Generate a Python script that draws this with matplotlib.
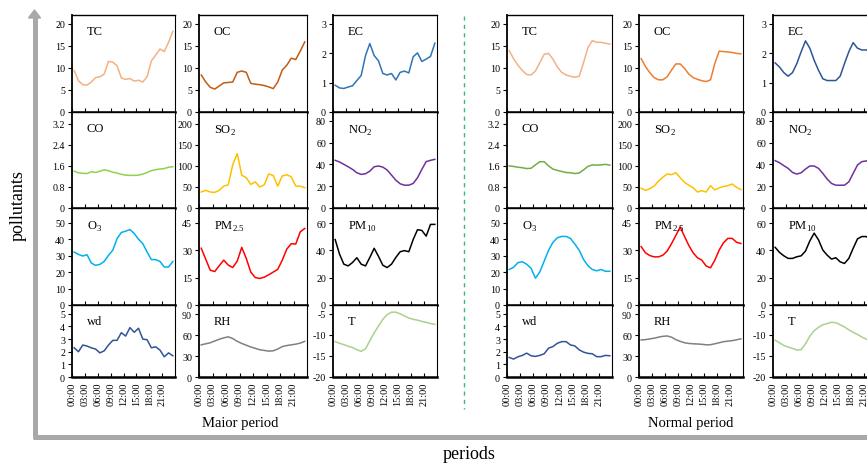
import numpy as np
import matplotlib
matplotlib.use("Agg")
import matplotlib.pyplot as plt
from matplotlib.patches import Polygon

plt.rcParams['font.family'] = ['Liberation Serif', 'DejaVu Serif']
plt.rcParams['mathtext.fontset'] = 'custom'
plt.rcParams['mathtext.rm'] = 'Liberation Serif'
plt.rcParams['axes.unicode_minus'] = False

# === Data (hourly means) ===

hours = np.arange(24)
tick_hours = [0, 3, 6, 9, 12, 15, 18, 21]
tick_labels = ['00:00', '03:00', '06:00', '09:00', '12:00', '15:00', '18:00', '21:00']
period_names = ['Maior period', 'Normal period']

tc_major = [9.4, 7.1, 6.2, 6.1, 6.8, 7.8, 8.0, 8.6, 11.5, 11.3, 10.5, 7.7, 7.4, 7.6, 7.0, 7.2, 6.8, 8.0, 11.6, 12.9, 14.3, 13.7, 15.8, 18.3]
oc_major = [8.4, 6.8, 5.6, 5.2, 5.9, 6.6, 6.7, 6.8, 9.0, 9.3, 9.0, 6.5, 6.3, 6.2, 6.0, 5.7, 5.3, 6.8, 9.5, 10.6, 12.2, 11.9, 13.8, 15.9]
ec_major = [0.91, 0.82, 0.80, 0.85, 0.89, 1.07, 1.24, 1.92, 2.33, 1.92, 1.74, 1.31, 1.26, 1.31, 1.09, 1.35, 1.39, 1.33, 1.88, 2.01, 1.72, 1.80, 1.89, 2.34]
co_major = [1.40, 1.34, 1.32, 1.31, 1.38, 1.35, 1.40, 1.45, 1.42, 1.36, 1.33, 1.28, 1.25, 1.24, 1.24, 1.25, 1.29, 1.35, 1.42, 1.46, 1.48, 1.50, 1.55, 1.57]
so2_major = [38, 42, 38, 37, 42, 52, 55, 103, 129, 78, 72, 56, 62, 50, 55, 81, 77, 52, 76, 79, 74, 52, 52, 48]
no2_major = [43.7, 42.2, 40.0, 37.8, 35.4, 32.3, 30.8, 31.4, 33.8, 37.8, 38.5, 37.5, 34.8, 30.2, 25.5, 22.2, 20.9, 20.9, 22.5, 27.7, 35.4, 42.5, 43.7, 44.6]
o3_major = [32.2, 30.8, 29.8, 30.6, 25.5, 24.1, 24.7, 26.5, 30.2, 33.3, 40.4, 44.1, 44.9, 45.9, 43.5, 40.0, 37.3, 32.2, 27.6, 27.6, 26.5, 23.1, 23.1, 26.5]
pm25_major = [31.0, 25.0, 19.0, 18.3, 21.5, 24.5, 21.8, 20.5, 24.0, 31.5, 25.5, 18.0, 15.0, 14.5, 15.2, 16.5, 18.0, 19.5, 24.5, 30.5, 33.5, 33.3, 40.0, 41.8]
pm10_major = [47.9, 37.3, 29.9, 28.6, 31.1, 34.6, 29.9, 28.6, 34.8, 41.5, 35.6, 29.1, 27.4, 29.9, 34.8, 39.0, 39.8, 39.0, 47.9, 55.1, 54.6, 50.4, 59.0, 59.0]
wd_major = [2.31, 2.00, 2.53, 2.45, 2.31, 2.21, 1.91, 2.07, 2.53, 2.90, 2.90, 3.51, 3.24, 3.91, 3.54, 3.86, 3.00, 2.95, 2.31, 2.39, 2.13, 1.60, 1.91, 1.68]
rh_major = [46, 47.5, 49, 51.5, 54, 56, 57.5, 55, 51, 48, 45.5, 43, 41, 39, 38, 37, 37.5, 40, 43.5, 45, 46, 47, 48.5, 51]
t_major = [-11.6, -12.0, -12.3, -12.7, -13.0, -13.5, -13.9, -13.3, -11.4, -9.5, -7.9, -6.3, -5.2, -4.6, -4.6, -5.0, -5.5, -6.0, -6.3, -6.5, -6.8, -7.0, -7.3, -7.5]

tc_normal = [13.9, 12.1, 10.6, 9.4, 8.5, 8.4, 9.3, 11.2, 13.1, 13.3, 12.0, 10.2, 9.0, 8.4, 8.1, 7.9, 8.1, 11.2, 14.6, 16.2, 15.8, 15.8, 15.6, 15.4]
oc_normal = [12.1, 10.3, 8.9, 7.8, 7.3, 7.3, 8.0, 9.5, 10.9, 10.9, 9.9, 8.6, 7.8, 7.4, 7.1, 6.9, 7.3, 11.0, 13.8, 13.7, 13.6, 13.5, 13.3, 13.2]
ec_normal = [1.67, 1.53, 1.34, 1.22, 1.34, 1.65, 2.05, 2.42, 2.17, 1.76, 1.42, 1.13, 1.07, 1.07, 1.07, 1.22, 1.65, 2.05, 2.36, 2.17, 2.11, 2.11, 2.10, 2.05]
co_normal = [1.60, 1.58, 1.55, 1.53, 1.50, 1.51, 1.64, 1.76, 1.76, 1.60, 1.48, 1.43, 1.39, 1.35, 1.34, 1.31, 1.33, 1.45, 1.58, 1.64, 1.63, 1.64, 1.66, 1.63]
so2_normal = [47, 42, 46, 52, 64, 73, 81, 79, 84, 72, 61, 54, 48, 38, 41, 38, 53, 43, 48, 51, 53, 57, 49, 44]
no2_normal = [43.4, 41.5, 38.8, 36.3, 32.6, 31.1, 32.3, 35.7, 38.5, 38.5, 36.3, 31.7, 26.5, 22.5, 20.9, 20.9, 20.9, 24.0, 31.7, 39.4, 42.5, 43.1, 44.0, 44.0]
o3_normal = [21.6, 22.9, 25.8, 26.3, 24.8, 22.3, 16.3, 20.1, 26.7, 33.3, 38.1, 40.9, 41.7, 41.7, 40.5, 37.1, 33.3, 27.7, 23.9, 21.6, 20.8, 21.6, 20.5, 20.5]
pm25_normal = [31.9, 28.5, 27.0, 26.3, 26.3, 27.2, 29.5, 33.5, 38.0, 42.6, 37.5, 32.5, 28.5, 25.8, 24.5, 21.3, 20.3, 24.5, 30.0, 34.0, 36.4, 36.4, 34.3, 33.6]
pm10_normal = [42.2, 38.5, 36.0, 34.1, 34.1, 35.3, 36.0, 39.5, 46.9, 52.6, 47.7, 40.2, 36.5, 33.6, 34.6, 31.6, 30.4, 34.1, 41.5, 48.4, 50.1, 50.1, 48.0, 47.0]
wd_normal = [1.55, 1.42, 1.60, 1.71, 1.89, 1.68, 1.63, 1.71, 1.84, 2.28, 2.41, 2.67, 2.80, 2.80, 2.54, 2.46, 2.15, 1.97, 1.87, 1.84, 1.61, 1.61, 1.71, 1.68]
rh_normal = [53, 53.5, 54.5, 55.5, 57, 58.2, 58.7, 57, 53.5, 51, 49, 48, 47.5, 47.2, 46.8, 46, 46.2, 47.5, 49, 50.5, 51.3, 52, 53.2, 54.6]
t_normal = [-11.25, -11.9, -12.5, -12.9, -13.2, -13.6, -13.5, -12.1, -10.3, -9.0, -8.2, -7.6, -7.3, -7.0, -7.1, -7.6, -8.1, -8.8, -9.4, -9.9, -10.5, -11.0, -11.5, -12.0]

# panel: label, (major, normal), (colour major, colour normal), ylim, yticks
panels = [
    ('TC', (tc_major, tc_normal), ('#f4b183', '#f4b183'), (0, 22), [0, 5, 10, 15, 20]),
    ('OC', (oc_major, oc_normal), ('#c55a11', '#ed7d31'), (0, 22), [0, 5, 10, 15, 20]),
    ('EC', (ec_major, ec_normal), ('#2e75b6', '#2f5597'), (0, 3.3), [0, 1, 2, 3]),
    ('CO', (co_major, co_normal), ('#92d050', '#70ad47'), (0, 3.65), [0, 0.8, 1.6, 2.4, 3.2]),
    ('SO$_2$', (so2_major, so2_normal), ('#ffc000', '#ffc000'), (0, 228), [0, 50, 100, 150, 200]),
    ('NO$_2$', (no2_major, no2_normal), ('#7030a0', '#7030a0'), (0, 88), [0, 20, 40, 60, 80]),
    ('O$_3$', (o3_major, o3_normal), ('#00b0f0', '#00b0f0'), (0, 59), [0, 10, 20, 30, 40, 50]),
    ('PM$_{2.5}$', (pm25_major, pm25_normal), ('#ff0000', '#ff0000'), (0, 53), [0, 15, 30, 45]),
    ('PM$_{10}$', (pm10_major, pm10_normal), ('#000000', '#000000'), (0, 71), [0, 20, 40, 60]),
    ('wd', (wd_major, wd_normal), ('#2f5597', '#2f5597'), (0, 5.7), [0, 1, 2, 3, 4, 5]),
    ('RH', (rh_major, rh_normal), ('#808080', '#808080'), (0, 103), [0, 30, 60, 90]),
    ('T', (t_major, t_normal), ('#a9d18e', '#a9d18e'), (-20, -2.9), [-20, -15, -10, -5]),
]

# === Layout (pixel boxes in a 867x464 figure) ===

W, H = 867, 464
col_x = [[(72, 175), (199, 307), (333, 437)],
         [(507, 612), (639, 743), (773, 877)]]
row_y = [(16, 113), (113, 209), (209, 306), (306, 378)]


def add_panel(fig, box_x, box_y):
    x0, x1 = box_x
    y0, y1 = box_y
    return fig.add_axes([x0 / W, 1 - y1 / H, (x1 - x0) / W, (y1 - y0) / H])


def style_panel(ax, bottom_row):
    ax.set_xlim(0, 24)
    ax.set_xticks(tick_hours)
    if bottom_row:
        ax.set_xticklabels(tick_labels, rotation=90, fontsize=7.5)
    else:
        ax.set_xticklabels([])
    ax.tick_params(axis='x', direction='in', length=3, width=0.8, pad=3)
    ax.tick_params(axis='y', direction='out', length=3, width=0.8, pad=2, labelsize=7.2)
    ax.spines['bottom'].set_linewidth(1.8)
    ax.spines['left'].set_linewidth(1.3)
    ax.spines['top'].set_linewidth(1.0)
    ax.spines['right'].set_linewidth(0.8)


def draw_frame(fig):
    bg = fig.add_axes([0, 0, 1, 1], zorder=-1)
    bg.set_xlim(0, W)
    bg.set_ylim(H, 0)
    bg.axis('off')
    grey = '#a8a8a8'
    bg.plot([34.5, 34.5], [18, 439], color=grey, lw=3.6, solid_capstyle='butt')
    bg.plot([33, W], [438, 438], color=grey, lw=3.6, solid_capstyle='butt')
    bg.add_patch(Polygon([(28.5, 19), (40.5, 19), (34.5, 11)], closed=True, color=grey))
    bg.plot([464, 464], [17, 410], color='#3cb878', lw=1, ls=(0, (3, 3)))
    bg.text(18, 206, 'pollutants', rotation=90, ha='center', va='center', fontsize=13)
    bg.text(469, 455, 'periods', ha='center', va='center', fontsize=13)
    bg.text(240, 424, period_names[0], ha='center', va='center', fontsize=10.5)
    bg.text(691, 424, period_names[1], ha='center', va='center', fontsize=10.5)


def main():
    fig = plt.figure(figsize=(W / 100, H / 100), dpi=100)
    draw_frame(fig)
    xs = hours + 0.5
    for g in range(2):
        for i, (label, series, colors, ylim, yticks) in enumerate(panels):
            r, c = divmod(i, 3)
            ax = add_panel(fig, col_x[g][c], row_y[r])
            ax.plot(xs, series[g], color=colors[g], lw=1.1)
            ax.set_ylim(*ylim)
            ax.set_yticks(yticks)
            ax.set_yticklabels(['%g' % v for v in yticks])
            style_panel(ax, r == 3)
            ax.annotate(label, xy=(0, 1), xycoords='axes fraction', xytext=(10.5, -7.5),
                        textcoords='offset points', ha='left', va='top', fontsize=9)
    fig.savefig('out.png', dpi=100)


if __name__ == "__main__":
    main()
